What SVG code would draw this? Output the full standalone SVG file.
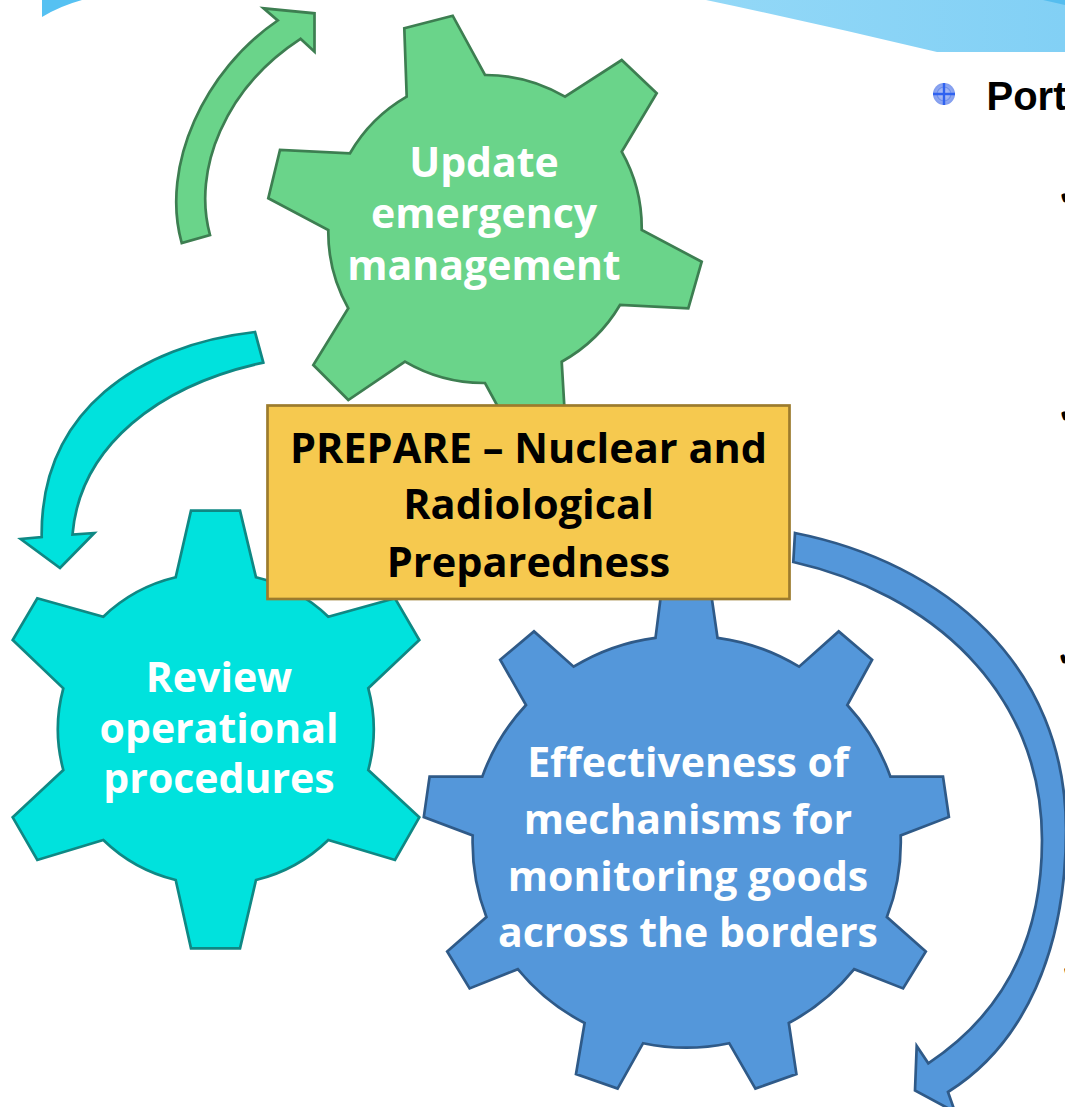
<svg xmlns="http://www.w3.org/2000/svg" width="1065" height="1107" viewBox="0 0 1065 1107">
  <defs>
    <linearGradient id="bannerFill" x1="0" y1="0" x2="1" y2="0">
      <stop offset="0" stop-color="#93D8F7"/>
      <stop offset="1" stop-color="#82D0F5"/>
    </linearGradient>
    <radialGradient id="bulletFill" cx="0.5" cy="0.5" r="0.5">
      <stop offset="0" stop-color="#B9C8F7"/>
      <stop offset="1" stop-color="#7F9BEE"/>
    </radialGradient>
  </defs>
  <style>
    .green{fill:#6AD48A;stroke:#3D7E51;stroke-width:2.7;stroke-linejoin:miter}
    .teal{fill:#00E2DD;stroke:#0F8884;stroke-width:2.7;stroke-linejoin:miter}
    .blue{fill:#5497DA;stroke:#2F5A88;stroke-width:2.7;stroke-linejoin:miter}
    .box{fill:#F6C94F;stroke:#9C7B2D;stroke-width:2.7}
    .label{font-family:"Open Sans","Liberation Sans",sans-serif;font-weight:700;font-size:41px;text-anchor:middle;fill:#FFFFFF}
    .title{font-family:"Open Sans","Liberation Sans",sans-serif;font-weight:700;font-size:41.5px;text-anchor:middle;fill:#000000}
    .side{font-family:"Liberation Sans",Arial,sans-serif;font-weight:700;font-size:40px;fill:#000000}
    .tick{font-family:"DejaVu Sans",sans-serif;font-weight:700;font-size:30px;fill:#000000}
  </style>

  <rect width="1065" height="1107" fill="#FFFFFF"/>

  <!-- slide header band -->
  <g id="banner">
    <path d="M706,0 Q820,24 937,52 L1065,52 L1065,0 Z" fill="url(#bannerFill)"/>
    <path d="M1043,0 L1065,0 L1065,5 Z" fill="#55BDEF"/>
    <path d="M42,0 L82,0 Q60,6 42,17 Z" fill="#56C1F2"/>
  </g>

  <!-- circular arrows between the gears -->
  <g id="connectors">
    <path class="green" d="M181.7,243 C160,165 205,70 277.7,20.5 L263.5,8.3 L314.5,13.3 L314.5,51.7 L300.5,38.8 C225,88 192,170 210,235 Z"/>
    <path class="teal" d="M255,332 C140,345 40,410 41.7,537 L20.7,539 L60,568 L94.3,533 L72.5,534.5 C80,445 160,385 263.3,362.6 Z"/>
    <path class="blue" d="M795,533 C945,563 1066,665 1066,830 C1066,950 1024.5,1044.3 948,1092 L955,1112 L915,1090.4 L916.7,1046 L928.3,1063.3 C994.7,1019.3 1042,950 1042,840 C1042,690 929,592.6 793.3,562 Z"/>
  </g>

  <g id="gear-update">
    <path class="green" d="M406.7,96.7 L404.3,28.3 L452.7,15.7 L485,75 A155,155 0 0 1 565,96.7 L621.7,60 L656.7,93.3 L621.7,151.7 A155,155 0 0 1 641.7,230 L701.7,261.7 L688.3,308.3 L620,305 A155,155 0 0 1 561.7,361.7 L565.7,429.7 L517.3,442.3 L485,383 A155,155 0 0 1 405,361.7 L348.3,400 L313.3,365 L348.3,308.3 A155,155 0 0 1 328.3,230 L268.3,198.3 L280,150 L350,153.3 A155,155 0 0 1 406.7,96.7 Z"/>
    <text class="label" x="484" y="177">Update</text>
    <text class="label" x="484" y="228">emergency</text>
    <text class="label" x="484" y="280">management</text>
  </g>

  <g id="gear-review">
    <path class="teal" d="M175.7,577.3 L191,510.7 L240,510.7 L256,577.3 A157,157 0 0 1 328.3,616.7 L395,598.3 L419.3,640 L368.3,688.3 A157,157 0 0 1 368.3,770 L419.3,817.3 L395,860 L328.3,840 A157,157 0 0 1 256,880 L240,948.3 L191,948.3 L175.7,880 A157,157 0 0 1 103.3,840 L37.3,860 L12.7,817.3 L63.3,770 A157,157 0 0 1 63.3,688.3 L12.7,640 L37.3,598.3 L103.3,616.7 A157,157 0 0 1 175.7,577.3 Z"/>
    <text class="label" x="219" y="692">Review</text>
    <text class="label" x="219" y="743">operational</text>
    <text class="label" x="219" y="793">procedures</text>
  </g>

  <g id="gear-borders">
    <path class="blue" d="M655.5,637.8 L661.6,590 L710.6,590 L717.5,637.8 A210,210 0 0 1 799.1,666.7 L838.7,631.4 L872.1,659.7 L847.3,705 A210,210 0 0 1 890.4,776.6 L943,776.6 L948.9,817 L900.7,835.5 A210,210 0 0 1 886.9,917.1 L925.8,951.4 L903.1,988.4 L854.2,969.2 A210,210 0 0 1 788.8,1023 L796.4,1074.1 L755.4,1088.6 L729.2,1043.2 A210,210 0 0 1 643.1,1043.2 L617.6,1088.6 L576,1074.1 L584.6,1023 A210,210 0 0 1 517.8,969.2 L469.6,988.4 L447.2,951.4 L486.4,917.1 A210,210 0 0 1 472.7,835.5 L423.8,817 L429.6,776.6 L482.3,776.6 A210,210 0 0 1 526,705 L500.2,659.7 L534,631.4 L573.6,666.7 A210,210 0 0 1 655.5,637.8 Z"/>
    <text class="label" x="688" y="777">Effectiveness of</text>
    <text class="label" x="688" y="834">mechanisms for</text>
    <text class="label" x="688" y="891">monitoring goods</text>
    <text class="label" x="688" y="947">across the borders</text>
  </g>

  <g id="prepare-box">
    <rect class="box" x="267.5" y="405.5" width="522" height="193.5"/>
    <text class="title" x="528.5" y="463">PREPARE – Nuclear and</text>
    <text class="title" x="528.5" y="519">Radiological</text>
    <text class="title" x="528.5" y="577">Preparedness</text>
  </g>

  <!-- bullet list at the right margin -->
  <g id="side-list">
    <circle cx="944" cy="94" r="11" fill="url(#bulletFill)"/>
    <circle cx="944" cy="94" r="7" fill="none" stroke="#6F8FEA" stroke-width="1.2"/>
    <path d="M933,94 H955 M944,83 V105" stroke="#2F62F0" stroke-width="2.4"/>
    <text class="side" x="986.5" y="110">Port</text>
    <text class="tick" x="1058" y="205">✔</text>
    <text class="tick" x="1058" y="423">✔</text>
    <text class="tick" x="1057" y="666">✔</text>
    <text class="tick" x="1061" y="979">✔</text>
  </g>
</svg>
